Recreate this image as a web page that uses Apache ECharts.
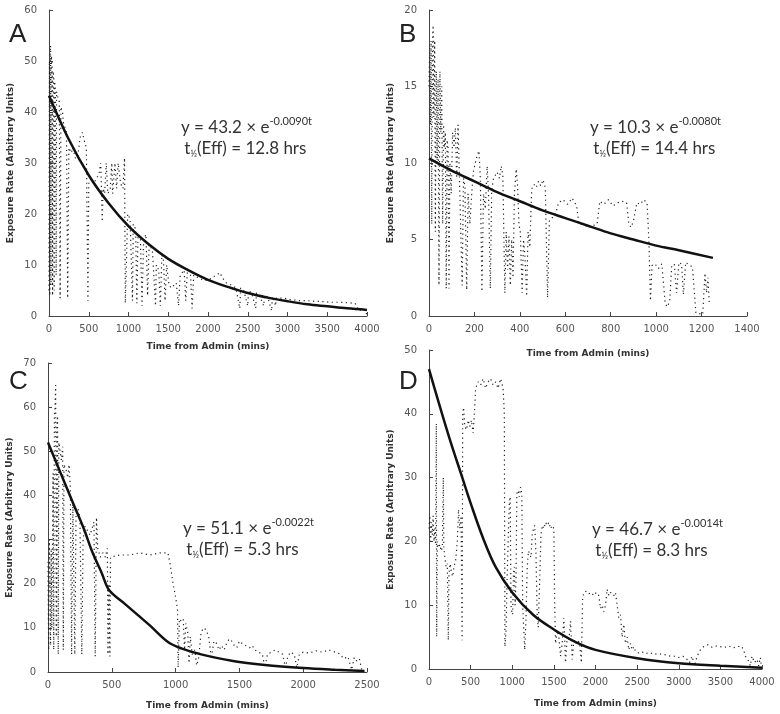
<!DOCTYPE html>
<html>
<head>
<meta charset="utf-8">
<script src="https://cdn.jsdelivr.net/npm/echarts@6/dist/echarts.min.js"></script>
<style>
  html, body { margin: 0; padding: 0; background: #fff; }
  #main { width: 780px; height: 714px; }
</style>
</head>
<body>
<div id="main"></div>
<script>
// measured traces, [minutes, exposure rate]
var traceA = [
  [0,5],[5,50],[10,4],[15,52],[20,53],[25,6],[30,51],[40,49],[45,4],[50,48],[60,47],[65,5],[70,46],[80,45],[90,8],[95,44],
  [110,43],[130,42],[140,3.5],[150,41],[170,40],[180,38],[200,37],[220,36],[235,3.5],[250,33],[280,32],[300,33],[330,31],
  [360,31],[390,35],[420,36],[450,34],[470,33],[490,3],[500,26],[530,27],[560,26],[600,27],[630,28],[650,30],[660,25],
  [670,18.5],[680,25],[700,24],[720,30],[740,24],[770,25],[790,30],[800,24],[830,30],[850,25],[870,30],[900,26],[930,25],
  [950,31],[960,2.5],[990,20],[1020,19],[1050,3],[1060,18],[1090,17],[1105,2.5],[1120,16],[1150,15],[1170,2],[1190,15],
  [1220,16],[1240,4],[1260,14],[1300,13],[1340,2],[1350,10],[1380,9],[1400,2],[1420,12],[1440,11],[1460,3],[1480,10],
  [1510,6],[1540,5.5],[1570,6],[1600,6.5],[1630,2],[1650,8],[1700,9],[1720,3],[1740,8.5],[1780,8],[1800,1.5],[1820,8],
  [1880,7.5],[1950,7],[2000,7],[2050,7.5],[2100,8],[2150,8.5],[2180,7.5],[2230,6.5],[2300,6],[2350,5.5],[2400,1.5],
  [2410,5.5],[2450,5],[2500,2],[2510,5],[2550,4.5],[2600,1.5],[2610,4.5],[2650,4],[2700,2],[2710,4],[2750,3.8],[2800,1],
  [2810,3.8],[2850,2],[2860,3.5],[2950,3.5],[3050,3.2],[3150,3],[3250,3],[3350,2.9],[3450,2.8],[3550,2.7],[3650,2.7],
  [3750,2.6],[3850,2.5],[3900,1],[3950,1.5],[4000,0.3]
];
var fitA = [
  [0,43.2],[250,34.6],[500,27.6],[750,22.1],[1000,17.6],[1250,14.1],[1500,11.2],[1750,9],[2000,7.1],[2250,5.7],
  [2500,4.5],[2750,3.6],[3000,2.9],[3250,2.3],[3500,1.9],[3750,1.5],[4000,1.2]
];

var traceB = [
  [0,15],[3,17.5],[6,12.5],[9,18],[12,6],[15,17],[18,19],[21,13],[25,18],[28,5.5],[32,16],[36,10],[40,15.5],[44,2],
  [48,16],[52,12],[56,15],[60,6],[64,12.5],[68,11],[72,12],[76,1.8],[80,11.5],[84,11],[88,1.8],[92,10],[98,8],[104,12],
  [110,11],[116,12.3],[122,9],[128,12.5],[134,9],[140,9],[146,2],[152,9],[158,8.5],[166,1.7],[172,8],[180,6],[188,8],
  [196,9.5],[204,10],[212,10.5],[220,10.8],[226,9],[233,1.6],[240,8],[248,7],[256,9.8],[262,8],[270,1.8],[276,8.2],
  [284,9],[292,9.2],[300,9.4],[310,9],[318,9.8],[325,9.2],[334,1.5],[340,5.5],[346,3],[352,5.2],[358,2],[364,5],[370,2.5],
  [376,8],[384,9.6],[390,8.5],[396,6],[402,5.5],[410,1.5],[416,5],[422,4],[430,1.3],[436,5.5],[444,4.5],[452,8.3],
  [462,8.6],[472,8.4],[482,8.8],[492,8.5],[502,8.9],[512,8.4],[522,1.2],[530,6.2],[540,6.4],[550,6.5],[560,6.8],[570,7.4],
  [590,7.6],[610,7.3],[630,7.7],[650,7.2],[660,6],[680,6],[700,5.8],[720,5.9],[740,6],[752,7.5],[770,7.3],[790,7.6],
  [810,7.2],[830,7.4],[850,7.5],[870,7.4],[880,6],[890,5.8],[900,6.2],[915,7.4],[930,7.3],[945,7.6],[960,7.4],[968,5],
  [975,1],[982,3.3],[995,3.4],[1010,3.1],[1025,3.4],[1040,0.8],[1050,0.6],[1060,1],[1068,3.2],[1080,3.4],[1090,1.5],
  [1100,3.5],[1112,3.4],[1120,1.4],[1130,3.5],[1140,3.4],[1150,3.3],[1160,3.2],[1175,0.2],[1205,0.1],[1215,2.8],
  [1222,1.5],[1228,2.5],[1234,0.8]
];
var fitB = [
  [0,10.3],[100,9.5],[200,8.8],[300,8.1],[400,7.5],[500,6.9],[600,6.4],[700,5.9],[800,5.4],[900,5],[1000,4.6],
  [1100,4.3],[1250,3.8]
];

var traceC = [
  [0,25],[5,5],[10,30],[15,22],[20,6],[25,28],[30,10],[35,27],[40,45],[45,5],[50,58],[55,60],[60,65],[65,8],[70,55],
  [75,58],[80,4],[85,52],[95,50],[105,48],[115,51],[120,5],[125,47],[140,46],[155,44],[165,47],[175,42],[185,4],[195,38],
  [210,4],[220,36],[235,37],[250,35],[265,4],[275,30],[290,33],[310,32],[330,31],[350,33],[360,34],[370,3.5],[380,35],
  [390,28],[410,26],[430,27],[450,26],[465,28],[470,4],[478,20],[485,3.5],[490,26],[560,26.5],[640,26.5],[720,27],
  [800,26.5],[880,27],[940,27],[960,24],[980,20],[1000,17],[1015,14],[1020,1],[1030,12],[1045,11.5],[1060,12],[1070,5],
  [1080,11],[1095,9],[1105,2],[1115,8],[1130,4],[1150,5],[1165,1.5],[1180,3],[1200,9],[1220,10],[1240,9.5],[1260,8],
  [1280,3],[1300,7],[1320,6.5],[1340,5],[1360,6],[1380,5],[1400,6.5],[1420,7.5],[1440,7],[1460,6],[1480,5.5],[1500,7],
  [1520,6.5],[1550,6],[1580,5.5],[1600,6],[1620,5],[1650,4.5],[1680,4],[1700,1],[1720,4],[1750,4.5],[1780,5],[1810,4.5],
  [1840,4],[1860,1],[1880,3.5],[1900,4.5],[1930,4],[1950,1],[1970,4],[2000,4.5],[2050,4.3],[2100,4.8],[2150,4.5],
  [2200,5],[2250,4.5],[2280,4.2],[2320,3],[2350,3.5],[2380,0.5],[2400,3.3],[2420,2.5],[2440,3],[2460,0.3],[2480,0.2]
];
var fitC = [
  [0,52],[100,45],[200,38],[280,32.5],[350,27],[420,22.5],[480,18.5],[600,15.5],[700,13],[800,10.5],[940,6.8],
  [1050,5.3],[1200,4],[1450,2.5],[1700,1.6],[2000,0.9],[2250,0.5],[2480,0.2]
];

var traceD = [
  [0,22],[10,24],[20,20],[30,23],[40,21],[50,24],[60,20],[70,22],[80,19.5],[88,38.5],[92,5],[100,20],[115,19],[130,19.5],
  [145,18.5],[160,19],[172,30],[178,19],[190,17.5],[205,16],[220,16.5],[232,4.5],[240,15],[255,16.5],[270,15],[285,14.5],
  [300,16],[320,17],[340,20],[355,25],[370,22],[385,24],[398,4.5],[405,40],[415,41],[430,38],[450,37.5],[470,39],
  [490,38],[510,39],[530,37],[545,40],[560,44],[590,45],[620,44.5],[650,45.5],[680,44],[710,45],[740,45.5],[770,44.5],
  [800,45],[830,44],[860,45.5],[890,44],[905,40],[912,3.5],[925,6],[940,15],[955,22],[965,26],[975,27],[985,10],[995,9],
  [1005,8.5],[1015,15],[1025,16],[1035,10],[1045,14],[1055,27.5],[1070,28],[1085,27],[1100,28.5],[1115,27.5],[1125,10],
  [1150,3],[1165,8],[1180,16],[1195,18.5],[1210,18],[1225,17.5],[1240,21],[1255,22],[1270,22.5],[1285,18],[1300,8],
  [1312,6.5],[1330,14],[1345,21],[1360,22.5],[1380,22],[1400,23],[1420,22.5],[1440,23],[1460,22],[1480,22.5],[1500,22],
  [1510,10],[1520,4],[1540,6],[1560,5],[1580,2],[1600,4],[1620,8],[1640,1],[1660,5],[1680,4.5],[1700,7.5],[1720,1.5],
  [1740,4.5],[1760,4],[1790,4.5],[1810,4],[1830,1],[1845,11],[1860,12],[1890,12.2],[1920,11.8],[1950,12],[1980,11.5],
  [2010,12],[2040,11.5],[2060,9.5],[2080,10],[2100,9],[2120,10],[2140,12.5],[2160,11.5],[2180,12],[2200,12.3],
  [2220,11.5],[2240,12],[2260,10],[2280,8],[2300,8.5],[2320,5],[2340,7],[2360,4],[2380,5],[2400,3],[2420,4],[2440,3],
  [2460,3.5],[2480,2.8],[2520,2.5],[2560,2.7],[2600,2.4],[2650,2.6],[2700,2.3],[2750,2.4],[2800,2.3],[2850,2.2],
  [2900,2],[2950,2],[3000,1.8],[3050,2],[3100,1.5],[3130,1],[3160,2],[3190,0.5],[3220,2],[3260,3],[3300,3.5],[3350,3.8],
  [3400,3.4],[3450,3.6],[3500,3.5],[3550,3.4],[3600,3.6],[3650,3.3],[3700,3.5],[3750,3.6],[3780,3],[3800,2],[3830,1.5],
  [3860,0.5],[3880,2],[3910,1],[3940,1.5],[3960,0.5],[3980,1.8],[3995,0.2]
];
var fitD = [
  [0,47],[100,42.5],[250,36],[400,30],[500,26],[650,20.5],[800,16],[1000,12],[1250,8.5],[1500,6.2],[1750,4.3],
  [2000,3],[2500,1.7],[3000,0.9],[3500,0.5],[4000,0.2]
];

var letters = ['A', 'B', 'C', 'D'];
var eqCoef = ['43.2', '10.3', '51.1', '46.7'];
var eqRate = ['-0.0090t', '-0.0080t', '-0.0022t', '-0.0014t'];
var halfLife = ['12.8', '14.4', '5.3', '8.3'];
var xMax = [4000, 1400, 2500, 4000];
var xStep = [500, 200, 500, 500];
var yMax = [60, 20, 70, 50];
var yStep = [10, 5, 10, 10];
var traces = [traceA, traceB, traceC, traceD];
var fits = [fitA, fitB, fitC, fitD];

// layout of the four panels
var grids = [
  { left: 49, top: 10, width: 318, height: 306 },
  { left: 429, top: 10, width: 318, height: 306 },
  { left: 48, top: 363, width: 319, height: 309 },
  { left: 429, top: 350, width: 333, height: 319 }
];
var xNameGap = [26, 33, 29, 30];
var letterPos = [[9, 22], [399, 22], [9, 369], [399, 369]];
var eqPos = [[181, 116], [590, 116], [183, 517], [592, 518]];

var chartDom = document.getElementById('main');
var myChart = echarts.init(chartDom);

var axisFont = 'DejaVu Sans';
var eqFont = 'Lato';

var option = {
  animation: false,
  backgroundColor: '#fff',
  grid: [],
  xAxis: [],
  yAxis: [],
  series: [],
  graphic: []
};

function plain(v) {
  return String(v);
}

for (var i = 0; i < 4; i++) {
  var g = grids[i];
  option.grid.push({
    left: g.left, top: g.top, width: g.width, height: g.height,
    containLabel: false, outerBoundsMode: 'none'
  });
  option.xAxis.push({
    gridIndex: i,
    type: 'value',
    min: 0,
    max: xMax[i],
    interval: xStep[i],
    name: 'Time from Admin (mins)',
    nameLocation: 'middle',
    nameGap: xNameGap[i],
    nameTextStyle: { fontFamily: axisFont, fontWeight: 'bold', fontSize: 9, color: '#333' },
    axisLine: { lineStyle: { color: '#444', width: 1 } },
    axisTick: { inside: true, length: 4, lineStyle: { color: '#444' } },
    axisLabel: { fontFamily: axisFont, fontSize: 10, color: '#555', margin: 8, formatter: plain },
    splitLine: { show: false }
  });
  option.yAxis.push({
    gridIndex: i,
    type: 'value',
    min: 0,
    max: yMax[i],
    interval: yStep[i],
    name: 'Exposure Rate (Arbitrary Units)',
    nameLocation: 'middle',
    nameGap: 34,
    nameTextStyle: { fontFamily: axisFont, fontWeight: 'bold', fontSize: 9, color: '#333' },
    axisLine: { show: true, lineStyle: { color: '#444', width: 1 } },
    axisTick: { show: true, inside: true, length: 4, lineStyle: { color: '#444' } },
    axisLabel: { fontFamily: axisFont, fontSize: 10, color: '#555', margin: 12, formatter: plain },
    splitLine: { show: false }
  });
  option.series.push({
    type: 'line',
    xAxisIndex: i,
    yAxisIndex: i,
    data: traces[i],
    symbol: 'none',
    lineStyle: { color: '#222', width: 1.2, type: [1.2, 3.5] },
    z: 2
  });
  option.series.push({
    type: 'line',
    xAxisIndex: i,
    yAxisIndex: i,
    data: fits[i],
    symbol: 'none',
    smooth: 0.35,
    lineStyle: { color: '#111', width: 2.5 },
    z: 3
  });
  option.graphic.push({
    type: 'text',
    left: letterPos[i][0],
    top: letterPos[i][1],
    style: { text: letters[i], font: '26px "Liberation Sans"', fill: '#222' }
  });
  option.graphic.push({
    type: 'text',
    left: eqPos[i][0],
    top: eqPos[i][1],
    style: {
      text: '{m|y = ' + eqCoef[i] + ' \u00d7 e}{s|' + eqRate[i] + '}\n {m2|t}{sub|\u00bd}{m2|(Eff) = ' + halfLife[i] + ' hrs}',
      fill: '#333',
      rich: {
        m: { fontFamily: eqFont, fontSize: 17, verticalAlign: 'bottom', lineHeight: 24 },
        s: { fontFamily: eqFont, fontSize: 11, verticalAlign: 'bottom', padding: [0, 0, 9, 0], lineHeight: 24 },
        m2: { fontFamily: eqFont, fontSize: 17, verticalAlign: 'bottom', padding: [0, 0, 3, 0], lineHeight: 24 },
        sub: { fontFamily: eqFont, fontSize: 9, verticalAlign: 'bottom', padding: [0, 0, 1, 0], lineHeight: 24 }
      }
    }
  });
}

option && myChart.setOption(option);
</script>
</body>
</html>
